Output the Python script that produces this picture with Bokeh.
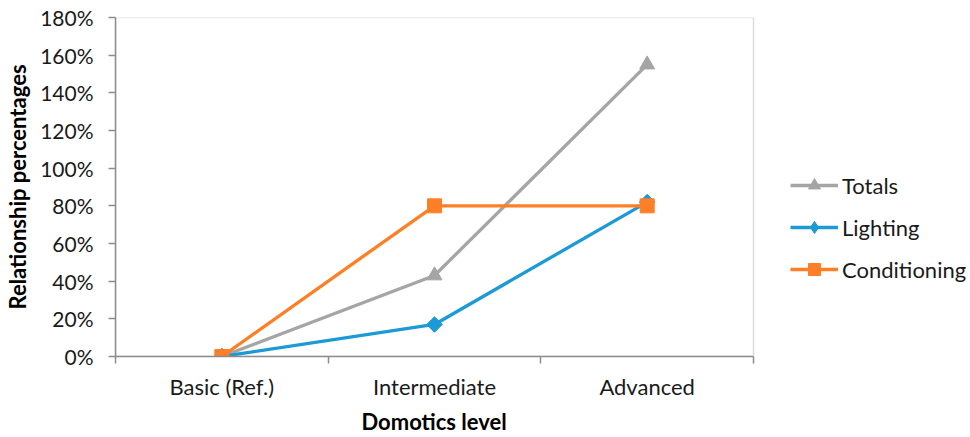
import math
from bokeh.plotting import figure
from bokeh.models import (Range1d, FixedTicker, NumeralTickFormatter, Legend,
                          LegendItem, ColumnDataSource, BoxAnnotation, Title)
from bokeh.embed import file_html
from bokeh.resources import INLINE

# Domotics levels and relationship percentages per consumption type
levels = ["Basic (Ref.)", "Intermediate", "Advanced"]
totals = [0.0, 0.43, 1.55]
lighting = [0.0, 0.17, 0.82]
conditioning = [0.0, 0.80, 0.80]
y_ticks = [0.0, 0.2, 0.4, 0.6, 0.8, 1.0, 1.2, 1.4, 1.6, 1.8]

FONT = "Lato"
GRID_GREY = "#8C8C8C"
n = len(levels)
y_max = y_ticks[-1]
x_pos = [i + 0.5 for i in range(n)]

# The frame runs to the right edge of the canvas so the legend can sit
# beside the plot area; the plot area itself is the box [0, n] x [0, y_max].
plot_left, plot_right, canvas_w = 115, 753, 970
x_end = n * (canvas_w - plot_left) / (plot_right - plot_left)

p = figure(width=canvas_w, height=437, output_backend="svg", toolbar_location=None,
           x_range=Range1d(0, x_end), y_range=Range1d(0, y_max),
           min_border_left=plot_left, min_border_right=0, min_border_top=17,
           min_border_bottom=81)
p.xgrid.visible = False
p.ygrid.visible = False
p.outline_line_color = None

p.add_layout(BoxAnnotation(left=0, right=n, bottom=0, top=y_max,
                           fill_alpha=0, line_color=GRID_GREY, line_width=1.5))

# x axis: labels at category centres, tick marks on category boundaries
p.xaxis.bounds = (0, n)
p.xaxis.ticker = FixedTicker(ticks=x_pos, minor_ticks=list(range(n + 1)))
p.xaxis.major_label_overrides = {x: lab for x, lab in zip(x_pos, levels)}
p.xaxis.major_tick_line_color = None
p.xaxis.major_tick_in = 0
p.xaxis.major_tick_out = 0
p.xaxis.minor_tick_in = 0
p.xaxis.minor_tick_out = 7
p.xaxis.minor_tick_line_color = GRID_GREY
p.xaxis.minor_tick_line_width = 1.5
p.xaxis.major_label_standoff = 9

p.yaxis.ticker = FixedTicker(ticks=y_ticks)
p.yaxis.formatter = NumeralTickFormatter(format="0%")
p.yaxis.minor_tick_line_color = None
p.yaxis.major_tick_in = 0
p.yaxis.major_tick_out = 7
p.yaxis.major_tick_line_color = GRID_GREY
p.yaxis.major_tick_line_width = 1.5
p.yaxis.major_label_standoff = 15
p.yaxis.axis_label = "Relationship percentages"

for ax in (p.xaxis[0], p.yaxis[0]):
    ax.axis_line_color = GRID_GREY
    ax.axis_line_width = 1.5
    ax.major_label_text_font = FONT
    ax.major_label_text_font_size = "22px"
    ax.major_label_text_color = "#1A1A1A"
    ax.axis_label_text_font = FONT
    ax.axis_label_text_font_size = "22px"
    ax.axis_label_text_font_style = "bold"
    ax.axis_label_text_color = "#000000"
p.yaxis.major_label_text_font_size = "21px"
p.yaxis.axis_label_standoff = 6

# x axis title, centred under the plot area rather than the whole frame
x_title = Title(text="Domotics level", align="left", offset=246,
                text_font=FONT, text_font_size="22px", text_font_style="bold",
                text_color="#000000", standoff=6)
p.add_layout(x_title, "below")

# name, values, colour, marker, size, angle, legend marker
series = [
    ("Totals", totals, "#A5A5A5", "triangle", 15, 0.0, "triangle"),
    ("Lighting", lighting, "#1B9AD6", "square", 11, math.pi / 4, "diamond"),
    ("Conditioning", conditioning, "#FF7F27", "square", 14, 0.0, "square"),
]

items = []
for name, vals, color, marker, size, angle, key_marker in series:
    src = ColumnDataSource(dict(x=x_pos, y=vals))
    ln = p.line("x", "y", source=src, line_color=color, line_width=3.3)
    sc = p.scatter("x", "y", source=src, marker=marker, size=size, angle=angle,
                   fill_color=color, line_color=color)
    if key_marker == marker:
        key = sc
    else:
        # legend-only key glyph (not drawn in the plot area)
        key_src = ColumnDataSource(dict(x=[float("nan")], y=[float("nan")]))
        key = p.scatter("x", "y", source=key_src, marker=key_marker, size=size,
                        fill_color=color, line_color=color)
    items.append(LegendItem(label=name, renderers=[ln, key]))

legend = Legend(items=items, location=(790 - plot_left, 72), glyph_width=48,
                glyph_height=30, spacing=12, label_standoff=4,
                label_text_font=FONT, label_text_font_size="22px",
                label_text_color="#1A1A1A", border_line_color=None,
                background_fill_alpha=0, padding=0, margin=0)
p.add_layout(legend, "center")

open("out.html", "w").write(file_html(p, INLINE))
